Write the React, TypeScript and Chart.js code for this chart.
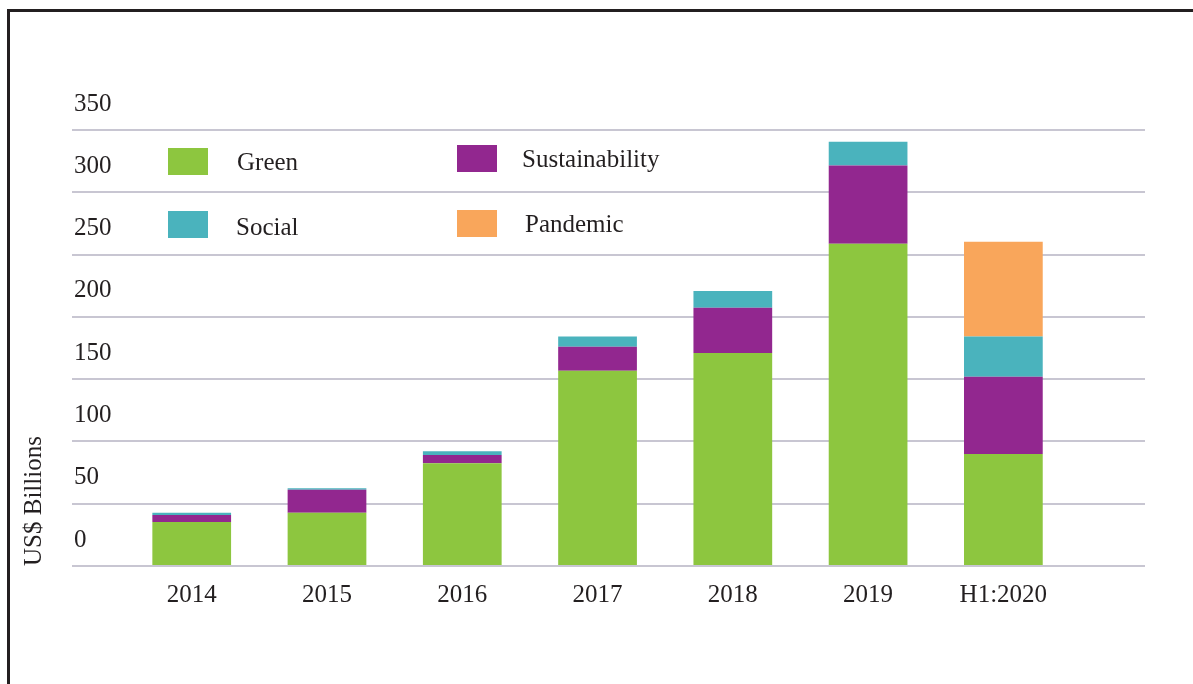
import React, { useEffect, useRef } from 'react';
import { Chart, registerables } from 'chart.js';

Chart.register(...registerables);

// ---- data ----
const categories = ['2014', '2015', '2016', '2017', '2018', '2019', 'H1:2020'];
const greenValues = [35.3, 42.8, 82.5, 156.8, 171.0, 258.6, 90.0];
const sustainabilityValues = [5.6, 18.4, 6.7, 19.2, 36.3, 63.0, 61.9];
const socialValues = [1.9, 1.3, 2.9, 8.3, 13.4, 18.9, 32.3];
const pandemicValues = [null, null, null, null, null, null, 76.1];
const yTickValues = [0, 50, 100, 150, 200, 250, 300, 350];
const seriesNames = ['Green', 'Sustainability', 'Social', 'Pandemic'];
const seriesColors = ['#8dc63f', '#92278f', '#4ab3bd', '#f9a65b'];
const seriesValues = [greenValues, sustainabilityValues, socialValues, pandemicValues];
const yTitle = 'US$ Billions';

const FONT_FAMILY = "'Liberation Serif', 'Times New Roman', serif";
const TEXT_COLOR = '#231f20';

// legend placement (2 x 2 grid inside the plot)
const legendSlots = [
  { box: [168, 148], text: [237, 149] },
  { box: [457, 145], text: [522, 146] },
  { box: [168, 211], text: [236, 214] },
  { box: [457, 210], text: [525, 211] },
];

export default function App() {
  const canvasRef = useRef<HTMLCanvasElement | null>(null);

  useEffect(() => {
    const canvas = canvasRef.current;
    if (!canvas) return;
    const font = { family: FONT_FAMILY, size: 25 };
    const chart = new Chart(canvas, {
      type: 'bar',
      data: {
        datasets: seriesNames.map((name, si) => ({
          label: name,
          data: seriesValues[si].map((v, i) => ({ x: i, y: v })),
          backgroundColor: seriesColors[si],
          borderWidth: 0,
          barPercentage: 0.582,
          categoryPercentage: 1,
        })),
      },
      options: {
        animation: false,
        responsive: false,
        devicePixelRatio: 1,
        layout: { padding: { left: 0, right: 48, top: 130, bottom: 58 } },
        plugins: {
          legend: { display: false },
          tooltip: { enabled: false },
        },
        scales: {
          x: {
            type: 'linear',
            min: -0.885,
            max: 7.047,
            offset: false,
            stacked: true,
            grid: { display: false, offset: false },
            border: { display: false },
            afterBuildTicks: (s: any) => {
              s.ticks = categories.map((_, i) => ({ value: i }));
            },
            afterFit: (s: any) => {
              s.height = 60;
            },
            ticks: {
              autoSkip: false,
              maxRotation: 0,
              padding: 6,
              font,
              color: TEXT_COLOR,
              callback: (v: any) => categories[Math.round(Number(v))] ?? '',
            },
          },
          y: {
            stacked: true,
            min: yTickValues[0],
            max: yTickValues[yTickValues.length - 1],
            afterBuildTicks: (s: any) => {
              s.ticks = yTickValues.map((v) => ({ value: v }));
            },
            afterFit: (s: any) => {
              s.width = 72;
            },
            grid: { color: '#c8c6d2', lineWidth: 2, drawTicks: false },
            border: { display: false },
            ticks: {
              mirror: true,
              padding: 2,
              labelOffset: -26,
              font,
              color: TEXT_COLOR,
            },
            title: {
              display: true,
              text: yTitle,
              align: 'start',
              color: TEXT_COLOR,
              font,
              padding: { top: 19, bottom: 0 },
            },
          },
        },
      },
    } as any);
    return () => chart.destroy();
  }, []);

  return (
    <div>
      <div
        style={{
          position: 'fixed',
          left: 7,
          top: 9,
          right: -20,
          bottom: -20,
          borderTop: '3px solid #231f20',
          borderLeft: '3px solid #231f20',
        }}
      />
      <div style={{ position: 'absolute', left: 0, top: 0, width: 1193, height: 684 }}>
        <canvas ref={canvasRef} width={1193} height={684} style={{ display: 'block' }} />
        {seriesNames.map((name, i) => (
          <React.Fragment key={name}>
            <div
              style={{
                position: 'absolute',
                left: legendSlots[i].box[0],
                top: legendSlots[i].box[1],
                width: 40,
                height: 27,
                background: seriesColors[i],
              }}
            />
            <div
              style={{
                position: 'absolute',
                left: legendSlots[i].text[0],
                top: legendSlots[i].text[1],
                fontFamily: FONT_FAMILY,
                fontSize: 25,
                lineHeight: '25px',
                color: TEXT_COLOR,
                whiteSpace: 'nowrap',
              }}
            >
              {name}
            </div>
          </React.Fragment>
        ))}
      </div>
    </div>
  );
}
